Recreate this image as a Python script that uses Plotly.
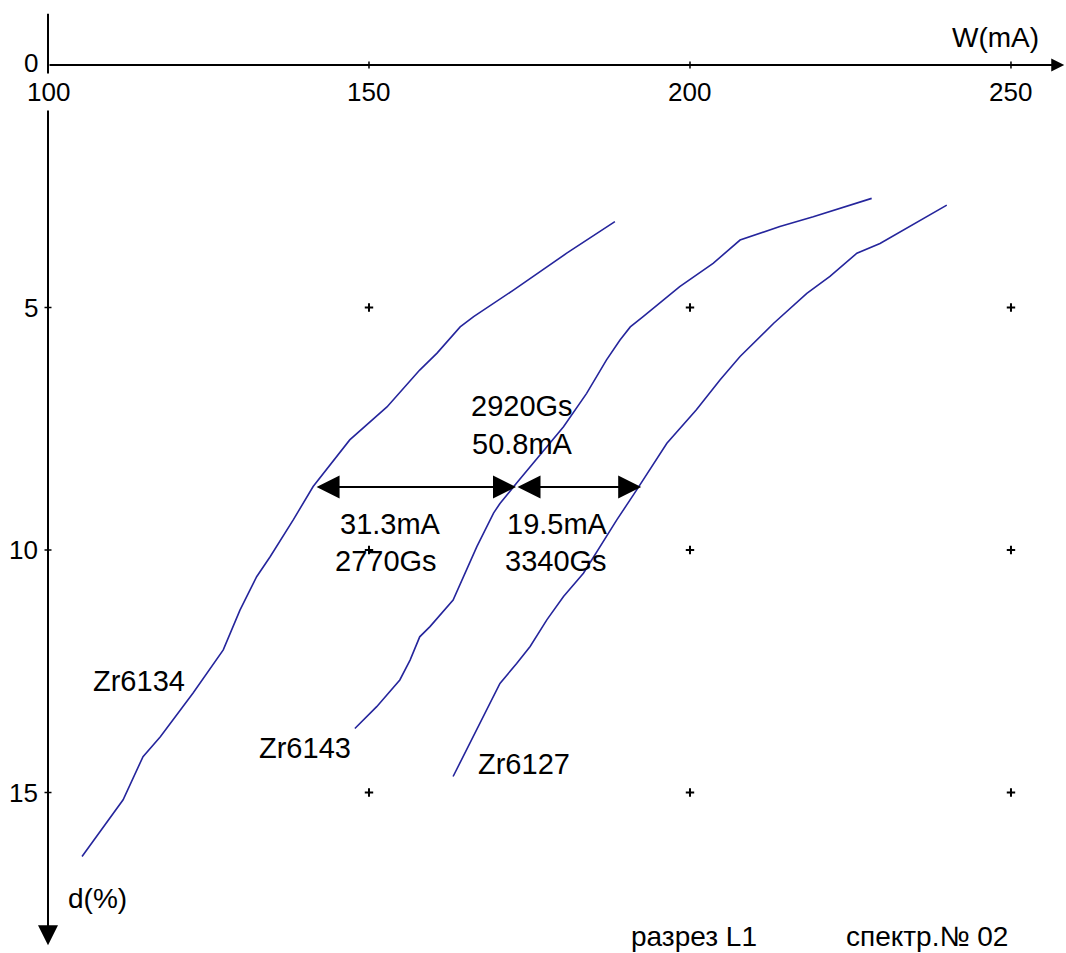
import plotly.graph_objects as go

# Curves: W (mA) against d (%)
zr6134_w = [105.3, 111.7, 114.8, 117.5, 122.6, 127.3, 129.9, 132.5, 134.6, 138.2,
            141.3, 147.0, 152.8, 157.9, 160.6, 164.2, 166.3, 172.5, 180.8, 188.3]
zr6134_d = [16.32, 15.15, 14.26, 13.85, 12.95, 12.06, 11.24, 10.55, 10.14, 9.38,
            8.69, 7.73, 7.05, 6.29, 5.94, 5.40, 5.19, 4.64, 3.88, 3.23]

zr6143_w = [147.8, 151.2, 154.8, 156.4, 157.9, 159.5, 163.1, 165.2, 166.8, 169.4,
            170.4, 173.0, 180.3, 183.9, 187.0, 189.1, 190.7, 192.7, 198.4, 203.6,
            207.8, 214.0, 219.2, 228.3]
zr6143_d = [13.68, 13.23, 12.68, 12.27, 11.79, 11.58, 11.03, 10.41, 9.93, 9.24,
            9.04, 8.62, 7.46, 6.77, 6.08, 5.67, 5.40, 5.19, 4.57, 4.09,
            3.61, 3.33, 3.13, 2.75]

zr6127_w = [163.1, 165.7, 168.3, 170.4, 173.0, 175.1, 177.7, 180.3, 183.4, 186.0,
            188.6, 191.7, 196.4, 201.0, 204.7, 207.8, 213.0, 218.2, 221.8, 226.0,
            229.6, 240.0]
zr6127_d = [14.67, 13.99, 13.30, 12.75, 12.34, 11.99, 11.44, 10.96, 10.48, 9.93,
            9.38, 8.76, 7.80, 7.11, 6.49, 6.01, 5.33, 4.71, 4.36, 3.88,
            3.68, 2.89]

curve_names = ["Zr6134", "Zr6143", "Zr6127"]
curve_label_pos = [(114.25, 12.70), (140.0, 14.08), (174.2, 14.41)]

# Distance markers at d = 8.70 %
gap_level = 8.70
gap_start = 141.6
gap_widths = [31.3, 19.5]
gap_texts = [["31.3mA", "2770Gs"], ["19.5mA", "3340Gs"]]
total_texts = ["2920Gs", "50.8mA"]

# Axis ticks
x_ticks = [100, 150, 200, 250]
y_ticks = [0, 5, 10, 15]
grid_x = [150, 200, 250]
grid_y = [5, 10, 15]

FONT = "Liberation Sans, Arial, sans-serif"
LINE_COLOR = "#25259c"

fig = go.Figure()

for w, d, name in [(zr6134_w, zr6134_d, curve_names[0]),
                   (zr6143_w, zr6143_d, curve_names[1]),
                   (zr6127_w, zr6127_d, curve_names[2])]:
    fig.add_trace(go.Scatter(x=w, y=d, mode="lines", name=name,
                             line=dict(color=LINE_COLOR, width=1.6),
                             hoverinfo="skip"))

# grid crosses
gx = [x for y in grid_y for x in grid_x]
gy = [y for y in grid_y for x in grid_x]
fig.add_trace(go.Scatter(x=gx, y=gy, mode="markers",
                         marker=dict(symbol="cross-thin", size=6,
                                     line=dict(color="black", width=2)),
                         hoverinfo="skip"))

# tick marks on the axes
fig.add_trace(go.Scatter(x=x_ticks[1:], y=[0] * 3, mode="markers",
                         marker=dict(symbol="line-ns", size=5,
                                     line=dict(color="black", width=1.5)),
                         hoverinfo="skip"))
fig.add_trace(go.Scatter(x=[100] * 3, y=y_ticks[1:], mode="markers",
                         marker=dict(symbol="line-ew", size=5,
                                     line=dict(color="black", width=1.5)),
                         hoverinfo="skip"))

ann = []

# axis lines with arrows
x_axis_end = 258.3
y_axis_top = -1.09
y_axis_end = 18.15
ann.append(dict(x=x_axis_end, y=0, ax=100, ay=0, xref="x", yref="y",
                axref="x", ayref="y", text="", showarrow=True,
                arrowhead=2, arrowsize=1.3, arrowwidth=2, arrowcolor="black",
                standoff=0, startstandoff=0))
ann.append(dict(x=100, y=y_axis_end, ax=100, ay=y_axis_top, xref="x", yref="y",
                axref="x", ayref="y", text="", showarrow=True,
                arrowhead=2, arrowsize=2.0, arrowwidth=2, arrowcolor="black",
                standoff=0, startstandoff=0))

# double-headed distance arrows
x0 = gap_start
for wdt in gap_widths:
    ann.append(dict(x=x0 + wdt, y=gap_level, ax=x0, ay=gap_level,
                    xref="x", yref="y", axref="x", ayref="y", text="",
                    showarrow=True, arrowside="end+start",
                    arrowhead=2, startarrowhead=2,
                    arrowsize=2.3, startarrowsize=2.3,
                    arrowwidth=2, arrowcolor="black",
                    standoff=0, startstandoff=0))
    x0 += wdt

# tick labels
for t in x_ticks:
    ann.append(dict(x=t, y=0, xref="x", yref="y", text=str(t), showarrow=False,
                    xanchor="center", yanchor="top", yshift=-8,
                    bgcolor="white" if t == 100 else None, borderpad=3,
                    font=dict(family=FONT, size=26, color="black")))
for t in y_ticks:
    ann.append(dict(x=100, y=t, xref="x", yref="y", text=str(t), showarrow=False,
                    xanchor="right", yanchor="middle", xshift=-8,
                    yshift=2 if t == 0 else 0,
                    font=dict(family=FONT, size=26, color="black")))

# axis titles and footer
ann.append(dict(x=995, y=953 - 38, text="W(mA)"))
ann.append(dict(x=97, y=953 - 898, text="d(%)"))
ann.append(dict(x=694, y=953 - 936, text="разрез L1"))
ann.append(dict(x=927, y=953 - 936, text="спектр.№ 02"))
for a in ann[-4:]:
    a.update(xref="paper", yref="paper", x=a["x"] / 1066, y=a["y"] / 953,
             xanchor="center", yanchor="middle", showarrow=False,
             font=dict(family=FONT, size=28, color="black"))

# curve names
for name, (lx, ly) in zip(curve_names, curve_label_pos):
    ann.append(dict(x=lx, y=ly, xref="x", yref="y", text=name, showarrow=False,
                    xanchor="center", yanchor="middle",
                    font=dict(family=FONT, size=29, color="black")))

# distance texts
ann.append(dict(x=173.9, y=7.03, text=total_texts[0]))
ann.append(dict(x=173.9, y=7.81, text=total_texts[1]))
ann.append(dict(x=153.4, y=9.46, text=gap_texts[0][0]))
ann.append(dict(x=152.7, y=10.23, text=gap_texts[0][1]))
ann.append(dict(x=179.4, y=9.46, text=gap_texts[1][0]))
ann.append(dict(x=179.1, y=10.23, text=gap_texts[1][1]))
for a in ann[-6:]:
    a.update(xref="x", yref="y", showarrow=False, xanchor="center",
             yanchor="middle", font=dict(family=FONT, size=29, color="black"))

fig.update_layout(
    width=1066, height=953,
    margin=dict(l=0, r=0, t=0, b=0),
    paper_bgcolor="white", plot_bgcolor="white",
    showlegend=False,
    xaxis=dict(range=[92.523, 258.57], visible=False, fixedrange=True),
    yaxis=dict(range=[18.309, -1.340], visible=False, fixedrange=True),
    annotations=ann,
)

fig.write_html("out.html")
